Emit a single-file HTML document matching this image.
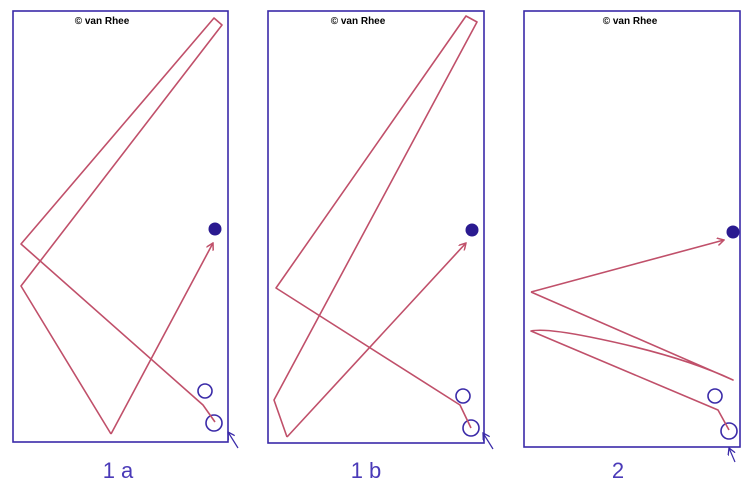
<!DOCTYPE html>
<html><head><style>body{margin:0;background:#fff}svg{display:block}</style></head><body>
<svg width="751" height="485" viewBox="0 0 751 485" xmlns="http://www.w3.org/2000/svg">
<defs><marker id="a" markerWidth="8" markerHeight="8" refX="7" refY="4" orient="auto" markerUnits="userSpaceOnUse"><path d="M0,0 L7,4 L0,8" fill="none" stroke="#c0506a" stroke-width="1.5"/></marker>
<marker id="b" markerWidth="8" markerHeight="8" refX="7" refY="4" orient="auto" markerUnits="userSpaceOnUse"><path d="M0,0 L7,4 L0,8" fill="none" stroke="#3a2aa8" stroke-width="1.3"/></marker></defs>
<g fill="none" stroke="#3a2aa8" stroke-width="1.6">
<rect x="13" y="11" width="215" height="431"/>
<rect x="268" y="11" width="216" height="432"/>
<rect x="524" y="11" width="216" height="436"/>
<circle cx="205" cy="391" r="7"/><circle cx="214" cy="423" r="8"/>
<circle cx="463" cy="396" r="7"/><circle cx="471" cy="428" r="8"/>
<circle cx="715" cy="396" r="7"/><circle cx="729" cy="431" r="8"/>
</g>
<g fill="#2a1a90"><circle cx="215" cy="229" r="6.5"/><circle cx="472" cy="230" r="6.5"/><circle cx="733" cy="232" r="6.5"/></g>
<g fill="none" stroke="#3a2aa8" stroke-width="1.2">
<line x1="238" y1="448" x2="228" y2="432" marker-end="url(#b)"/>
<line x1="493" y1="449" x2="483" y2="433" marker-end="url(#b)"/>
<line x1="735" y1="462" x2="729" y2="448" marker-end="url(#b)"/>
</g>
<g fill="none" stroke="#c0506a" stroke-width="1.6" stroke-linejoin="round">
<polyline points="215,422 203,405 21,244 214,18 222,25 21,286 111,434"/>
<line x1="111" y1="434" x2="213" y2="243" marker-end="url(#a)"/>
<polyline points="471,428 460,405 276,288 466,16 477,22 274,400 287,437"/>
<line x1="287" y1="437" x2="466" y2="243" marker-end="url(#a)"/>
<path d="M729,430 L718,410 L531,331 Q545,328 590,337 Q680,355 733,380 L531,292"/>
<line x1="531" y1="292" x2="724" y2="240" marker-end="url(#a)"/>
</g>
<g font-family="Liberation Sans, sans-serif" font-weight="bold" font-size="10" fill="#000" text-anchor="middle">
<text x="102" y="24">© van Rhee</text><text x="358" y="24">© van Rhee</text><text x="630" y="24">© van Rhee</text>
</g>
<g font-family="Liberation Sans, sans-serif" font-size="22" fill="#4a3ab8" text-anchor="middle">
<text x="118" y="478">1 a</text><text x="366" y="478">1 b</text><text x="618" y="478">2</text>
</g>
</svg>
</body></html>
